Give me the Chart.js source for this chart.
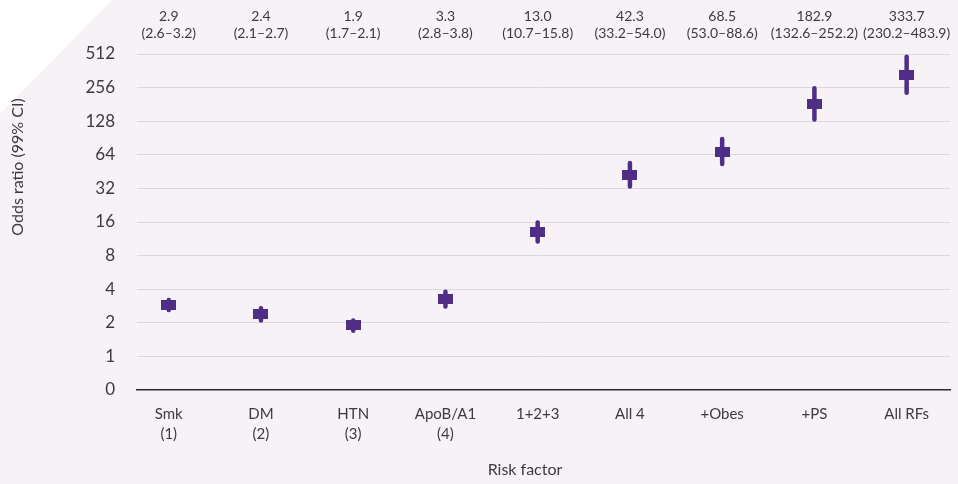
<!DOCTYPE html>
<html>
<head>
<meta charset="utf-8">
<script src="https://cdn.jsdelivr.net/npm/chart.js@4/dist/chart.umd.min.js"></script>
<style>
  html, body { margin: 0; padding: 0; background: #f6f2f6; }
  #wrap { width: 958px; height: 484px; position: relative; }
</style>
</head>
<body>
<div id="wrap"><canvas id="orChart"></canvas></div>
<script>
// risk factors and odds ratios with 99% CI
const categories = [['Smk', '(1)'], ['DM', '(2)'], ['HTN', '(3)'], ['ApoB/A1', '(4)'], '1+2+3', 'All 4', '+Obes', '+PS', 'All RFs'];
const oddsRatio = [2.9, 2.4, 1.9, 3.3, 13.0, 42.3, 68.5, 182.9, 333.7];
const ciLow = [2.6, 2.1, 1.7, 2.8, 10.7, 33.2, 53.0, 132.6, 230.2];
const ciHigh = [3.2, 2.7, 2.1, 3.8, 15.8, 54.0, 88.6, 252.2, 483.9];
const yTickLabels = ['0', '1', '2', '4', '8', '16', '32', '64', '128', '256', '512'];

const purple = '#502d87';
const textColor = '#3d3b3f';
const fontFamily = 'Lato, "Open Sans", sans-serif';

// y axis runs in log2 units, the bottom step is labelled 0
const log2 = v => Math.log2(v);

// little box used for the point estimate
const box = document.createElement('canvas');
box.width = 15; box.height = 10;
const bctx = box.getContext('2d');
bctx.fillStyle = purple;
bctx.fillRect(0, 0, 15, 10);

// CI whiskers as one broken line: low, high, gap, ...
const whiskers = [];
oddsRatio.forEach((_, i) => {
  whiskers.push({ x: i, y: log2(ciLow[i]) });
  whiskers.push({ x: i, y: log2(ciHigh[i]) });
  whiskers.push({ x: i + 0.5, y: null });
});

const backdrop = {
  id: 'backdrop',
  beforeDraw(chart) {
    const c = chart.ctx;
    c.save();
    c.fillStyle = '#f6f2f6';
    c.fillRect(0, 0, chart.width, chart.height);
    c.fillStyle = '#ffffff';
    c.beginPath();
    c.moveTo(0, 0);
    c.lineTo(112, 0);
    c.lineTo(0, 114);
    c.closePath();
    c.fill();
    c.restore();
  }
};

const labelsAndTitles = {
  id: 'labelsAndTitles',
  afterDraw(chart) {
    const c = chart.ctx;
    const xs = chart.scales.x;
    c.save();
    c.fillStyle = textColor;
    c.textAlign = 'center';
    c.textBaseline = 'middle';
    c.font = '14px ' + fontFamily;
    oddsRatio.forEach((v, i) => {
      const x = xs.getPixelForValue(i);
      c.fillText(v.toFixed(1), x, 16);
      c.fillText('(' + ciLow[i].toFixed(1) + '\u2013' + ciHigh[i].toFixed(1) + ')', x, 33);
    });

    c.font = '16px ' + fontFamily;
    c.fillText('Risk factor', 525, 470);
    c.translate(18, 167);
    c.rotate(-Math.PI / 2);
    c.fillText('Odds ratio (99% CI)', 0, 0);
    c.restore();
  }
};

new Chart(document.getElementById('orChart'), {
  data: {
    datasets: [
      {
        type: 'scatter',
        data: oddsRatio.map((v, i) => ({ x: i, y: log2(v) })),
        pointStyle: box,
        pointRadius: 7,
        order: 0
      },
      {
        type: 'line',
        data: whiskers,
        borderColor: purple,
        borderWidth: 4.5,
        borderCapStyle: 'round',
        spanGaps: false,
        pointRadius: 0,
        order: 1
      }
    ]
  },
  options: {
    responsive: true,
    maintainAspectRatio: false,
    animation: false,
    layout: { padding: { top: 54, right: 0, bottom: 0, left: 0 } },
    plugins: { legend: { display: false }, tooltip: { enabled: false } },
    scales: {
      x: {
        type: 'linear',
        min: -0.344,
        max: 8.47,
        offset: false,
        afterBuildTicks: s => { s.ticks = categories.map((_, i) => ({ value: i })); },
        afterFit: s => { s.height = 94; },
        grid: { display: false },
        border: { display: true, color: '#2b2a2d', width: 1.5 },
        ticks: {
          autoSkip: false,
          maxRotation: 0,
          padding: 6,
          color: textColor,
          font: { family: fontFamily, size: 15, lineHeight: 1.35 },
          callback: v => categories[v]
        }
      },
      y: {
        type: 'linear',
        min: -1,
        max: 9,
        afterFit: s => { s.width = 137; },
        border: { display: false },
        grid: {
          drawTicks: false,
          color: ctx => (ctx.tick && ctx.tick.value === -1) ? 'rgba(0,0,0,0)' : '#dcd8dc',
          lineWidth: 1
        },
        ticks: {
          stepSize: 1,
          padding: 22,
          color: textColor,
          font: { family: fontFamily, size: 17 },
          callback: v => yTickLabels[v + 1]
        }
      }
    }
  },
  plugins: [backdrop, labelsAndTitles]
});
</script>
</body>
</html>
